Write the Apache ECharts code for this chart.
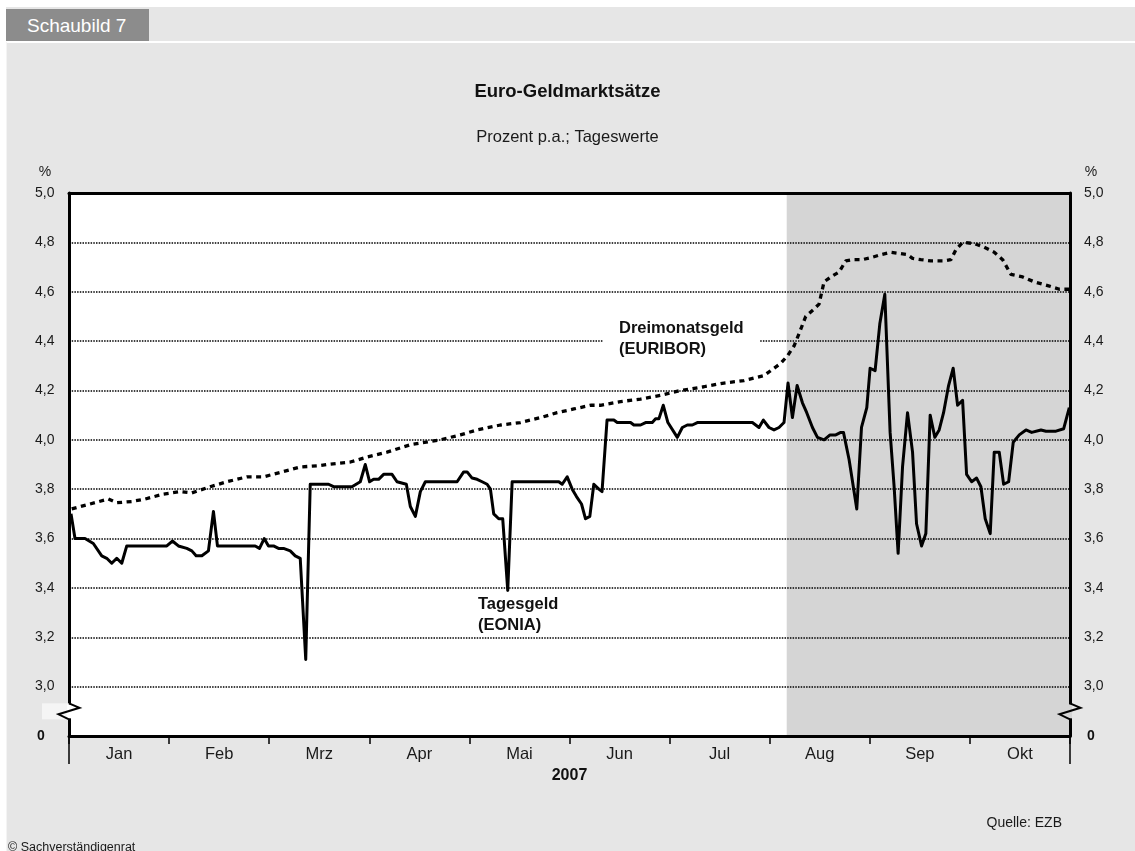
<!DOCTYPE html>
<html>
<head>
<meta charset="utf-8">
<script src="https://cdn.jsdelivr.net/npm/echarts/dist/echarts.min.js"></script>
<style>
  html, body { margin: 0; padding: 0; background: #ffffff; }
  #frame { position: absolute; left: 6px; top: 7px; width: 1129px; height: 844px; background: #e6e6e6; }
  #hl { position: absolute; left: 6px; top: 41px; width: 1129px; height: 2px; background: #ffffff; }
  #vl { position: absolute; left: 6px; top: 42px; width: 1px; height: 809px; background: #f4f4f4; }
  #tab { position: absolute; left: 6px; top: 9px; width: 143px; height: 32px; background: #8c8c8c; color: #ffffff;
         font-family: 'Liberation Sans', Arial, sans-serif; font-size: 19px; line-height: 33px; padding-left: 0; }
  #tab span { position: absolute; left: 21px; top: 0; }
  #c { position: absolute; left: 0; top: 0; width: 1135px; height: 851px; }
</style>
</head>
<body>
<div id="frame"></div>
<div id="hl"></div>
<div id="vl"></div>
<div id="tab"><span>Schaubild 7</span></div>
<div id="c"></div>
<script>
// ---------- DATA ----------
const months = ['Jan', 'Feb', 'Mrz', 'Apr', 'Mai', 'Jun', 'Jul', 'Aug', 'Sep', 'Okt'];
const yearLabel = '2007';
// x = position in months from 1 Jan 2007 (0 = start of Jan, 10 = end of Okt)
const shadeStart = 7.17;   // start of shaded period (Aug 2007)
const shadeEnd = 10;
const yMin = 2.8, yMax = 5.0, yStep = 0.2;

// Tagesgeld (EONIA), % p.a.
const eonia = [
  [0.02,3.70],[0.06,3.60],[0.16,3.60],[0.243,3.58],[0.327,3.53],[0.377,3.52],[0.427,3.50],[0.477,3.52],
  [0.527,3.50],[0.577,3.57],[0.977,3.57],[1.033,3.59],[1.093,3.57],[1.177,3.56],[1.227,3.55],[1.27,3.53],
  [1.327,3.53],[1.393,3.55],[1.443,3.71],[1.483,3.57],[1.86,3.57],[1.903,3.56],[1.95,3.60],[1.993,3.57],
  [2.043,3.57],[2.093,3.56],[2.143,3.56],[2.21,3.55],[2.26,3.53],[2.31,3.52],[2.365,3.11],[2.41,3.82],
  [2.593,3.82],[2.643,3.81],[2.827,3.81],[2.91,3.83],[2.96,3.90],[3.003,3.83],[3.043,3.84],[3.093,3.84],
  [3.143,3.86],[3.227,3.86],[3.277,3.83],[3.37,3.82],[3.41,3.73],[3.46,3.69],[3.51,3.79],[3.56,3.83],
  [3.877,3.83],[3.943,3.87],[3.977,3.87],[4.027,3.845],[4.077,3.84],[4.127,3.83],[4.177,3.82],[4.21,3.80],
  [4.243,3.70],[4.293,3.68],[4.333,3.68],[4.383,3.39],[4.427,3.83],[4.893,3.83],[4.927,3.82],[4.977,3.85],
  [5.027,3.80],[5.07,3.77],[5.12,3.74],[5.16,3.68],[5.203,3.69],[5.243,3.82],[5.293,3.80],[5.325,3.79],
  [5.375,4.08],[5.443,4.08],[5.477,4.07],[5.56,4.07],[5.61,4.07],[5.643,4.06],[5.71,4.06],[5.76,4.07],
  [5.827,4.07],[5.86,4.085],[5.893,4.085],[5.937,4.14],[5.983,4.07],[6.077,4.01],[6.127,4.05],[6.177,4.06],
  [6.227,4.06],[6.277,4.07],[6.827,4.07],[6.893,4.05],[6.937,4.08],[6.993,4.05],[7.043,4.04],[7.093,4.05],
  [7.143,4.07],[7.183,4.23],[7.227,4.09],[7.274,4.22],[7.327,4.15],[7.37,4.11],[7.427,4.05],[7.477,4.01],
  [7.543,4.00],[7.603,4.02],[7.66,4.02],[7.71,4.03],[7.737,4.03],[7.793,3.92],[7.87,3.72],[7.917,4.05],
  [7.97,4.13],[8.003,4.29],[8.053,4.28],[8.10,4.47],[8.15,4.59],[8.203,4.03],[8.243,3.81],[8.283,3.54],
  [8.327,3.89],[8.377,4.11],[8.427,3.95],[8.467,3.66],[8.517,3.57],[8.56,3.62],[8.603,4.10],[8.65,4.01],
  [8.693,4.04],[8.737,4.11],[8.787,4.22],[8.833,4.29],[8.877,4.14],[8.927,4.16],[8.967,3.86],[9.017,3.83],
  [9.067,3.845],[9.11,3.81],[9.153,3.68],[9.203,3.62],[9.243,3.95],[9.293,3.95],[9.337,3.82],[9.387,3.83],
  [9.433,3.99],[9.493,4.02],[9.56,4.04],[9.617,4.03],[9.71,4.04],[9.76,4.035],[9.86,4.035],[9.937,4.045],
  [9.993,4.13]
];

// Dreimonatsgeld (EURIBOR), % p.a.
const euribor = [
  [0.027,3.72],[0.21,3.74],[0.393,3.76],[0.477,3.745],[0.627,3.75],[0.76,3.76],[0.943,3.78],[1.11,3.79],
  [1.227,3.785],[1.41,3.81],[1.577,3.83],[1.777,3.85],[1.943,3.85],[2.127,3.87],[2.31,3.89],[2.493,3.895],
  [2.577,3.90],[2.81,3.91],[2.977,3.93],[3.177,3.95],[3.41,3.98],[3.71,4.00],[3.91,4.02],[4.077,4.04],
  [4.31,4.06],[4.51,4.07],[4.71,4.09],[4.877,4.11],[5.043,4.125],[5.21,4.14],[5.31,4.14],[5.51,4.155],
  [5.71,4.165],[5.91,4.18],[6.11,4.20],[6.343,4.215],[6.543,4.23],[6.743,4.24],[6.943,4.26],[7.043,4.29],
  [7.11,4.31],[7.177,4.34],[7.243,4.38],[7.293,4.43],[7.36,4.50],[7.443,4.53],[7.493,4.55],[7.543,4.64],
  [7.61,4.66],[7.693,4.68],[7.76,4.725],[7.827,4.73],[7.927,4.73],[8.027,4.74],[8.11,4.75],[8.21,4.76],
  [8.377,4.75],[8.427,4.735],[8.51,4.73],[8.61,4.725],[8.743,4.725],[8.81,4.73],[8.86,4.77],[8.927,4.80],
  [9.043,4.795],[9.143,4.78],[9.243,4.76],[9.327,4.73],[9.41,4.67],[9.527,4.66],[9.643,4.64],[9.777,4.625],
  [9.893,4.61],[9.993,4.61]
];

// ---------- CHART ----------
const FONT = "'Liberation Sans', Arial, Helvetica, sans-serif";
const G = { left: 69, top: 193, width: 1001, height: 543 };
const chart = echarts.init(document.getElementById('c'), null, { renderer: 'canvas' });

function yLabel(v) {
  if (Math.abs(v - yMin) < 1e-6) return '{z|0}';
  return v.toFixed(1).replace('.', ',');
}
const labelStyle = { fontFamily: FONT, fontSize: 14, color: '#1a1a1a' };

const option = {
  animation: false,
  backgroundColor: 'transparent',
  textStyle: { fontFamily: FONT },
  title: [
    { text: 'Euro-Geldmarktsätze', left: 'center', top: 77,
      textStyle: { fontFamily: FONT, fontSize: 18.5, fontWeight: 'bold', color: '#111' } },
    { text: 'Prozent p.a.; Tageswerte', left: 'center', top: 124,
      textStyle: { fontFamily: FONT, fontSize: 16.5, fontWeight: 'normal', color: '#1a1a1a' } },
    { text: 'Quelle: EZB', right: 68, top: 811,
      textStyle: { fontFamily: FONT, fontSize: 14, fontWeight: 'normal', color: '#1a1a1a' } },
    { text: '© Sachverständigenrat', left: 3, top: 836, padding: [5, 5, 5, 5],
      textStyle: { fontFamily: FONT, fontSize: 12.5, fontWeight: 'normal', color: '#1a1a1a' } }
  ],
  grid: { left: G.left, top: G.top, width: G.width, height: G.height, show: true,
          backgroundColor: '#ffffff', borderWidth: 0, containLabel: false },
  xAxis: [
    { type: 'category', data: months, position: 'bottom', boundaryGap: true, z: 4,
      axisLine: { show: true, lineStyle: { color: '#000', width: 3 } },
      axisTick: { show: true, length: 8, inside: false, lineStyle: { color: '#000', width: 1.5 } },
      axisLabel: { margin: 10, fontFamily: FONT, fontSize: 16.5, color: '#1a1a1a' },
      splitLine: { show: false },
      name: yearLabel, nameLocation: 'middle', nameGap: 28,
      nameTextStyle: { fontFamily: FONT, fontSize: 16, fontWeight: 'bold', color: '#111' } },
    { type: 'value', min: 0, max: 10, position: 'top', z: 4,
      axisLine: { show: true, onZero: false, lineStyle: { color: '#000', width: 3 } },
      axisTick: { show: false }, axisLabel: { show: false }, splitLine: { show: false } }
  ],
  yAxis: [
    { type: 'value', min: yMin, max: yMax, interval: yStep, position: 'left', z: 3,
      axisLine: { show: true, onZero: false, lineStyle: { color: '#000', width: 3 } },
      axisTick: { show: false },
      axisLabel: Object.assign({ formatter: yLabel, align: 'left', margin: 34,
        rich: { z: { fontFamily: FONT, fontSize: 14, fontWeight: 'bold', color: '#111', padding: [0, 0, 0, 2] } } }, labelStyle),
      splitLine: { show: true, showMinLine: false, showMaxLine: false,
                   lineStyle: { color: '#000', width: 1.5, type: [1.5, 1.2] } } },
    { type: 'value', min: yMin, max: yMax, interval: yStep, position: 'right', z: 3,
      axisLine: { show: true, onZero: false, lineStyle: { color: '#000', width: 3 } },
      axisTick: { show: false },
      axisLabel: Object.assign({ formatter: yLabel, align: 'left', margin: 14,
        rich: { z: { fontFamily: FONT, fontSize: 14, fontWeight: 'bold', color: '#111', padding: [0, 0, 0, 3] } } }, labelStyle),
      splitLine: { show: false } }
  ],
  series: [
    { type: 'custom', xAxisIndex: 1, yAxisIndex: 0, z: 1, silent: true,
      data: [[shadeStart, shadeEnd]],
      renderItem: function (params, api) {
        const p0 = api.coord([api.value(0), yMax]);
        const p1 = api.coord([api.value(1), yMin]);
        return { type: 'rect', shape: { x: p0[0], y: p0[1], width: p1[0] - p0[0], height: p1[1] - p0[1] },
                 style: { fill: '#d5d5d5' } };
      } },
    { name: 'Dreimonatsgeld (EURIBOR)', type: 'line', xAxisIndex: 1, yAxisIndex: 0, z: 5,
      data: euribor, showSymbol: false, smooth: false,
      lineStyle: { color: '#000', width: 3.3, type: [5, 4.5], cap: 'butt' } },
    { name: 'Tagesgeld (EONIA)', type: 'line', xAxisIndex: 1, yAxisIndex: 0, z: 6,
      data: eonia, showSymbol: false, smooth: false,
      lineStyle: { color: '#000', width: 3, join: 'round' } }
  ]
};
chart.setOption(option);

// ---------- decorations (axis breaks, edge lines, annotations, % signs) ----------
const xL = chart.convertToPixel({ xAxisIndex: 1 }, 0);
const xR = chart.convertToPixel({ xAxisIndex: 1 }, 10);
const yBreak = chart.convertToPixel({ yAxisIndex: 0 }, 2.9);
const yBase = chart.convertToPixel({ yAxisIndex: 0 }, yMin);
const yTop = chart.convertToPixel({ yAxisIndex: 0 }, yMax);
const bTop = yBreak - 8, bBot = yBreak + 8;
function zig(x, fill) {
  return [
    { type: 'rect', z: 20, shape: { x: x - 2, y: bTop + 1, width: 4, height: bBot - bTop - 2 }, style: { fill: fill } },
    { type: 'polyline', z: 21, shape: { points: [[x, bTop], [x + 10.5, bTop + 4.5], [x - 10.5, bTop + 11], [x, bBot]] },
      style: { stroke: '#000', lineWidth: 2, fill: null } }
  ];
}
const textBold = { fontFamily: FONT, fontSize: 16.5, fontWeight: 'bold', fill: '#111' };
chart.setOption({
  graphic: [
    { type: 'rect', z: 19, shape: { x: xL - 27, y: bTop, width: 27, height: bBot - bTop }, style: { fill: '#f5f5f5' } },
    ...zig(xL, '#ffffff'),
    ...zig(xR, '#d5d5d5'),
    { type: 'line', z: 20, shape: { x1: xL, y1: yBase, x2: xL, y2: yBase + 28 }, style: { stroke: '#000', lineWidth: 1.5 } },
    { type: 'line', z: 20, shape: { x1: xR, y1: yBase, x2: xR, y2: yBase + 28 }, style: { stroke: '#000', lineWidth: 1.5 } },
    { type: 'text', z: 20, x: xL - 24, y: yTop - 21, style: { text: '%', fontFamily: FONT, fontSize: 14, fill: '#1a1a1a', textAlign: 'center', textVerticalAlign: 'middle' } },
    { type: 'text', z: 20, x: xR + 21, y: yTop - 21, style: { text: '%', fontFamily: FONT, fontSize: 14, fill: '#1a1a1a', textAlign: 'center', textVerticalAlign: 'middle' } },
    { type: 'rect', z: 9, shape: { x: 603, y: 316, width: 156, height: 46 }, style: { fill: '#ffffff' } },
    { type: 'text', z: 10, x: 619, y: 328, style: Object.assign({ text: 'Dreimonatsgeld', textVerticalAlign: 'middle' }, textBold) },
    { type: 'text', z: 10, x: 619, y: 349, style: Object.assign({ text: '(EURIBOR)', textVerticalAlign: 'middle' }, textBold) },
    { type: 'text', z: 10, x: 478, y: 604, style: Object.assign({ text: 'Tagesgeld', textVerticalAlign: 'middle' }, textBold) },
    { type: 'text', z: 10, x: 478, y: 625, style: Object.assign({ text: '(EONIA)', textVerticalAlign: 'middle' }, textBold) }
  ]
});
</script>
</body>
</html>
